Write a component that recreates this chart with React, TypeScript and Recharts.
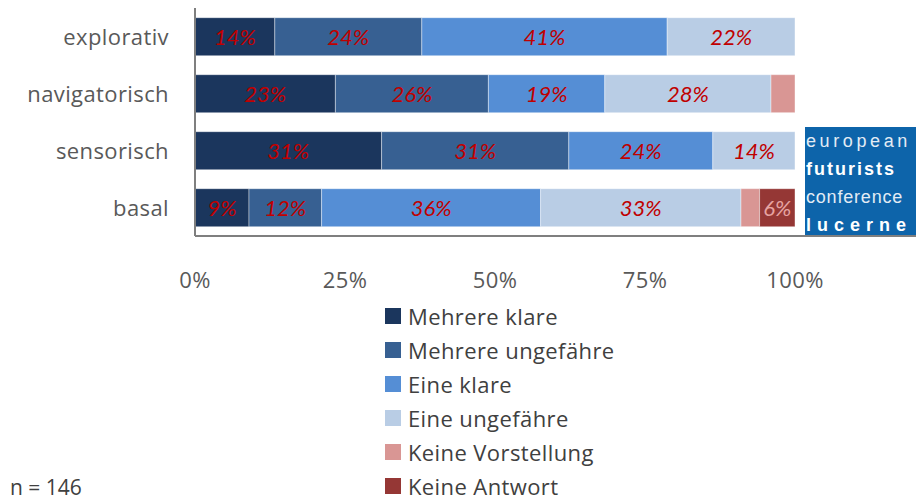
import { BarChart, Bar, XAxis, YAxis, LabelList } from "recharts";

const categories = ["explorativ", "navigatorisch", "sensorisch", "basal"];
const seriesNames = [
  "Mehrere klare",
  "Mehrere ungefähre",
  "Eine klare",
  "Eine ungefähre",
  "Keine Vorstellung",
  "Keine Antwort",
];
const seriesColors = ["#1b365d", "#376092", "#558ed5", "#b9cde5", "#d99694", "#953735"];

// widths (per category, per series)
const mehrereKlare = [13.3, 23.4, 31.1, 9.0];
const mehrereUngefaehre = [24.5, 25.5, 31.2, 12.1];
const eineKlare = [40.9, 19.4, 24.0, 36.5];
const eineUngefaehre = [21.3, 27.7, 13.7, 33.4];
const keineVorstellung = [0, 4.0, 0, 3.1];
const keineAntwort = [0, 0, 0, 5.9];

// printed labels
const labelsMK = ["14%", "23%", "31%", "9%"];
const labelsMU = ["24%", "26%", "31%", "12%"];
const labelsEK = ["41%", "19%", "24%", "36%"];
const labelsEU = ["22%", "28%", "14%", "33%"];
const labelsKV = ["", "", "", ""];
const labelsKA = ["", "", "", "6%"];

const xTicks = [0, 25, 50, 75, 100];

const seriesValues = [mehrereKlare, mehrereUngefaehre, eineKlare, eineUngefaehre, keineVorstellung, keineAntwort];
const seriesLabels = [labelsMK, labelsMU, labelsEK, labelsEU, labelsKV, labelsKA];

const data = categories.map((c, i) => {
  const row: any = { name: c };
  seriesValues.forEach((vals, s) => {
    row["s" + s] = vals[i];
    row["l" + s] = seriesLabels[s][i];
  });
  return row;
});

const FONT = "'Open Sans', Lato, sans-serif";

function XTick({ x, y, payload }: any) {
  return (
    <text x={x} y={y + 44} textAnchor="middle" fill="#595959" fontSize={22} letterSpacing={0.4} fontFamily={FONT}>
      {payload.value}%
    </text>
  );
}

function YTick({ x, y, payload }: any) {
  return (
    <text x={x - 18} y={y + 8} textAnchor="end" fill="#595959" fontSize={22} letterSpacing={0.4} fontFamily={FONT}>
      {payload.value}
    </text>
  );
}

export default function App() {
  return (
    <div style={{ position: "absolute", left: 0, top: 0, width: 916, height: 500, background: "#fff", fontFamily: FONT }}>
      <BarChart
        width={916}
        height={500}
        data={data}
        layout="vertical"
        margin={{ top: 8, right: 121, left: 0, bottom: 214 }}
        barCategoryGap="17%"
      >
        <XAxis
          type="number"
          domain={[0, 100]}
          ticks={xTicks}
          height={50}
          tickLine={false}
          axisLine={{ stroke: "#7f7f7f", strokeWidth: 2 }}
          tick={<XTick />}
          interval={0}
        />
        <YAxis
          type="category"
          dataKey="name"
          width={195}
          tickLine={false}
          axisLine={{ stroke: "#7f7f7f", strokeWidth: 2 }}
          tick={<YTick />}
        />
        {seriesNames.map((n, s) => (
          <Bar
            key={n}
            dataKey={"s" + s}
            name={n}
            stackId="a"
            fill={seriesColors[s]}
            stroke="#ffffff"
            strokeOpacity={0.4}
            strokeWidth={1}
            isAnimationActive={false}
          >
            <LabelList
              dataKey={"l" + s}
              position="center"
              fill={s === 5 ? "#e6a3a1" : "#c00000"}
              fontSize={22}
              fontStyle="italic"
              fontFamily="Lato, sans-serif"
            />
          </Bar>
        ))}
      </BarChart>
      {/* axis line continues under the logo */}
      <div style={{ position: "absolute", left: 795, top: 235, width: 121, height: 2, background: "#7f7f7f" }} />
      {/* logo */}
      <div
        style={{
          position: "absolute",
          left: 805,
          top: 127,
          width: 111,
          height: 108,
          background: "#0d64aa",
          color: "#fff",
          fontFamily: "'Liberation Sans', Arial, sans-serif",
          fontSize: 18,
          lineHeight: "28px",
          paddingLeft: 1,
          boxSizing: "border-box",
          overflow: "hidden",
          whiteSpace: "nowrap",
        }}
      >
        <div style={{ letterSpacing: 3.6, color: "#e3ecf5" }}>european</div>
        <div style={{ letterSpacing: 2, fontWeight: "bold" }}>futurists</div>
        <div style={{ letterSpacing: 0.8, color: "#e3ecf5" }}>conference</div>
        <div style={{ letterSpacing: 6, fontWeight: "bold" }}>lucerne</div>
      </div>
      {/* legend */}
      <div style={{ position: "absolute", left: 385, top: 299 }}>
        {seriesNames.map((n, s) => (
          <div key={n} style={{ display: "flex", alignItems: "center", height: 34 }}>
            <div style={{ width: 16, height: 16, background: seriesColors[s], marginRight: 7 }} />
            <span style={{ fontSize: 22, letterSpacing: 0.4, color: "#404040" }}>{n}</span>
          </div>
        ))}
      </div>
      <div style={{ position: "absolute", left: 10, top: 473, fontSize: 21, color: "#404040" }}>n = 146</div>
    </div>
  );
}
